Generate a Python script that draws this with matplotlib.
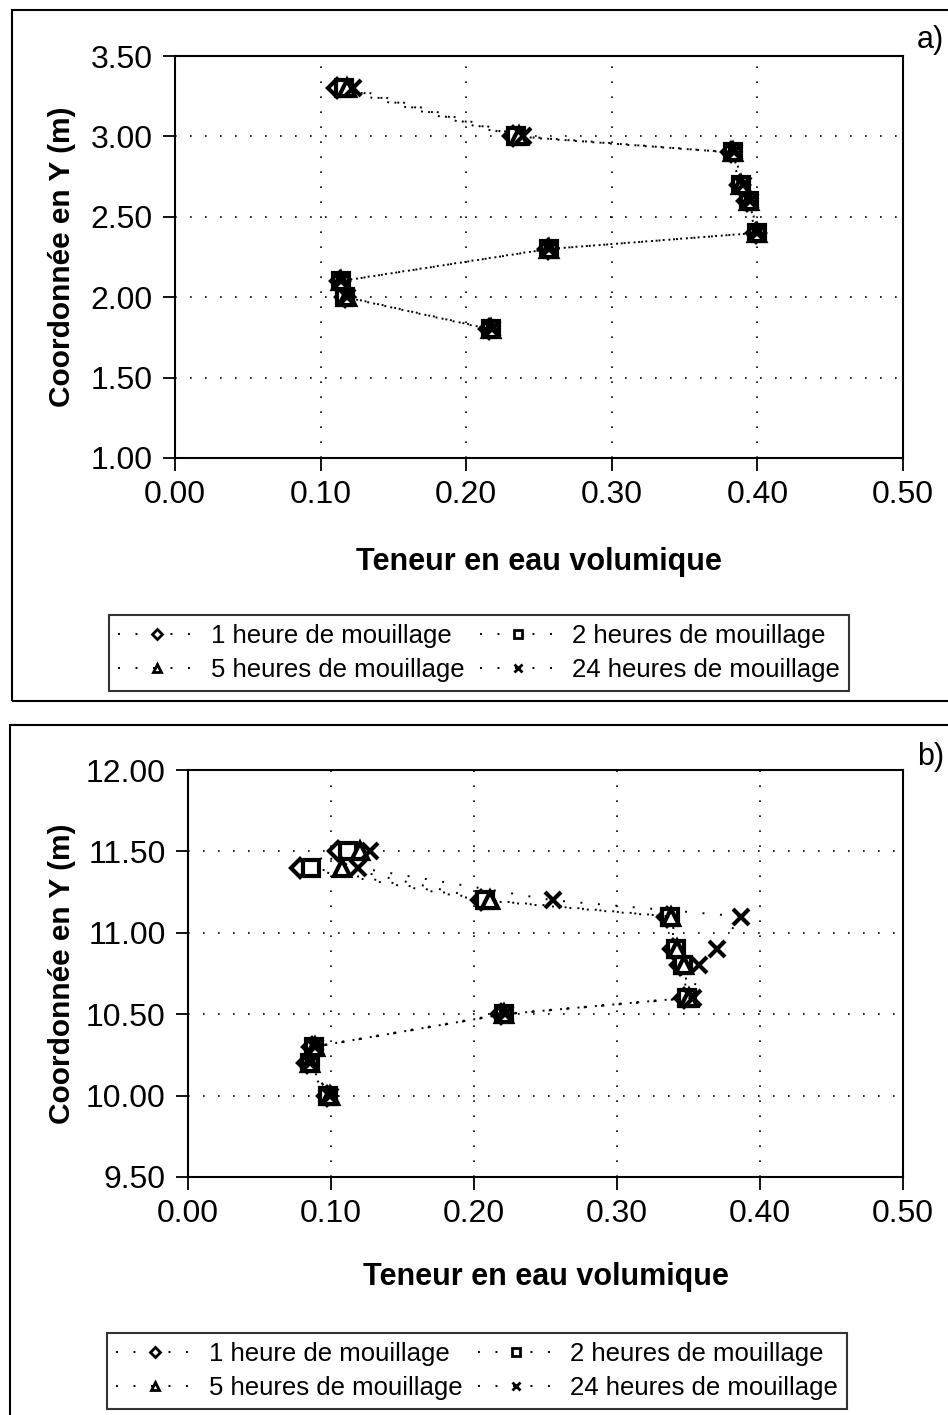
"""Teneur en eau volumique vs coordonnee Y, deux profils (a et b)"""

import matplotlib
matplotlib.use("Agg")
import matplotlib.pyplot as plt
from matplotlib.patches import Rectangle

plt.rcParams["font.family"] = ["Liberation Sans", "DejaVu Sans"]

# series labels and markers
labels = ["1 heure de mouillage", "2 heures de mouillage",
          "5 heures de mouillage", "24 heures de mouillage"]
markers = ["D", "s", "^", "x"]

# panel a) - y coordinate and water content per wetting time
y_a = [3.3, 3.0, 2.9, 2.7, 2.6, 2.4, 2.3, 2.1, 2.0, 1.8]
a_1h = [0.111, 0.232, 0.382, 0.388, 0.393, 0.399, 0.256, 0.113, 0.117, 0.216]
a_2h = [0.116, 0.234, 0.383, 0.389, 0.394, 0.400, 0.257, 0.114, 0.117, 0.217]
a_5h = [0.118, 0.236, 0.383, 0.389, 0.394, 0.400, 0.257, 0.114, 0.118, 0.217]
a_24h = [0.122, 0.239, 0.384, 0.390, 0.395, 0.400, 0.257, 0.114, 0.118, 0.218]

# panel b)
y_b = [11.5, 11.4, 11.2, 11.1, 10.9, 10.8, 10.6, 10.5, 10.3, 10.2, 10.0]
b_1h = [0.105, 0.078, 0.205, 0.335, 0.339, 0.344, 0.347, 0.219, 0.087, 0.083, 0.097]
b_2h = [0.112, 0.086, 0.208, 0.337, 0.341, 0.346, 0.349, 0.221, 0.088, 0.085, 0.098]
b_5h = [0.120, 0.108, 0.211, 0.338, 0.342, 0.347, 0.350, 0.221, 0.089, 0.085, 0.099]
b_24h = [0.127, 0.119, 0.255, 0.387, 0.370, 0.357, 0.353, 0.222, 0.089, 0.085, 0.099]

x_ticks = [0.0, 0.1, 0.2, 0.3, 0.4, 0.5]
ya_ticks = [1.0, 1.5, 2.0, 2.5, 3.0, 3.5]
yb_ticks = [9.5, 10.0, 10.5, 11.0, 11.5, 12.0]

W, H = 948, 1415
fig = plt.figure(figsize=(W / 100, H / 100), dpi=100)


def fx(px):
    return px / W


def fy(py):
    return 1 - py / H


# panel frames
fig.patches.append(Rectangle((fx(12), fy(701)), fx(950) - fx(12), fy(10) - fy(701),
                             transform=fig.transFigure, fill=False, ec="black", lw=1.5))
fig.patches.append(Rectangle((fx(10), fy(1420)), fx(950) - fx(10), fy(725) - fy(1420),
                             transform=fig.transFigure, fill=False, ec="black", lw=1.5))


def panel(rect, ys, series, yticks, ylab_x, xlab_y, legend_pos, tag, tag_y):
    ax = fig.add_axes(rect)
    handles = []
    for xs, m, lab in zip(series, markers, labels):
        h, = ax.plot(xs, ys, color="black", linestyle=(0, (1, 8)), lw=1.4,
                     marker=m, ms=11 if m != "D" else 9, mfc="white", mec="black",
                     mew=3.0, label=lab)
        handles.append(h)
    ax.set_xlim(0, 0.5)
    ax.set_ylim(yticks[0], yticks[-1])
    ax.set_xticks(x_ticks)
    ax.set_yticks(yticks)
    ax.set_xticklabels([f"{v:.2f}" for v in x_ticks])
    ax.set_yticklabels([f"{v:.2f}" for v in yticks])
    ax.tick_params(direction="out", length=9, width=1.3, labelsize=23, pad=7)
    ax.grid(True, color="black", linestyle=(0, (1, 8)), lw=1.2)
    for s in ax.spines.values():
        s.set_linewidth(1.5)
    ax.set_xlabel("Teneur en eau volumique", fontsize=22, fontweight="bold", va="center")
    ax.set_ylabel("Coordonnée en Y (m)", fontsize=21.5, fontweight="bold", va="center")
    ax.xaxis.set_label_coords(0.5, xlab_y)
    ax.yaxis.set_label_coords(ylab_x, 0.5)
    # row-major order: 1h, 2h / 5h, 24h
    order = [0, 2, 1, 3]
    leg = ax.legend([handles[i] for i in order], [labels[i] for i in order],
                    ncol=2, loc="center", bbox_to_anchor=legend_pos,
                    bbox_transform=fig.transFigure, fontsize=18.5, frameon=True,
                    fancybox=False, edgecolor="black", markerscale=0.55,
                    handlelength=3.0, columnspacing=0.6, handletextpad=0.6,
                    borderpad=0.35, labelspacing=0.4)
    leg.get_frame().set_linewidth(1.5)
    for lh in leg.legend_handles:
        lh.set_markeredgewidth(2.0)
    fig.text(fx(944), fy(tag_y), tag, fontsize=22, ha="right", va="center")
    return ax


panel([fx(175), fy(458), fx(903) - fx(175), fy(56) - fy(458)], y_a,
      [a_1h, a_2h, a_5h, a_24h], ya_ticks, -0.155, -0.259,
      (fx(479), fy(653)), "a)", 40)

panel([fx(188), fy(1177), fx(903) - fx(188), fy(770) - fy(1177)], y_b,
      [b_1h, b_2h, b_5h, b_24h], yb_ticks, -0.176, -0.246,
      (fx(477), fy(1371)), "b)", 757)

fig.savefig("out.png", dpi=100)
